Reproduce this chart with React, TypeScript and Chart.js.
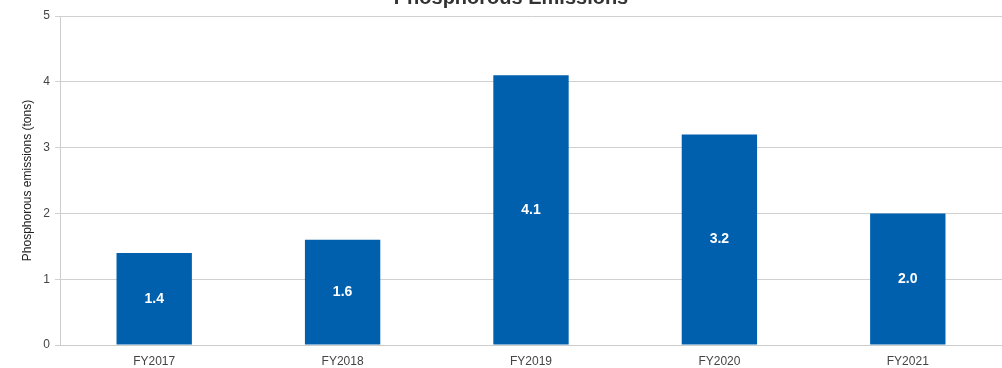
import React, { useEffect, useRef } from "react";
import { Chart, registerables } from "chart.js";

Chart.register(...registerables);

const categories = ["FY2017", "FY2018", "FY2019", "FY2020", "FY2021"];
const emissions = [1.4, 1.6, 4.1, 3.2, 2.0];
const yTicks = [0, 1, 2, 3, 4, 5];
const chartTitle = "Phosphorous Emissions";
const yTitle = "Phosphorous emissions (tons)";

const FONT = "'Liberation Sans', Arial, sans-serif";

const valueLabels = {
  id: "valueLabels",
  afterDatasetsDraw(chart: any) {
    const ctx = chart.ctx;
    const meta = chart.getDatasetMeta(0);
    ctx.save();
    ctx.fillStyle = "#ffffff";
    ctx.font = `bold 14px ${FONT}`;
    ctx.textAlign = "center";
    ctx.textBaseline = "middle";
    meta.data.forEach((bar: any, i: number) => {
      const y = (bar.y + bar.base) / 2;
      ctx.fillText(emissions[i].toFixed(1), bar.x, y);
    });
    ctx.restore();
  },
};

const topTitle = {
  id: "topTitle",
  afterDraw(chart: any) {
    const ctx = chart.ctx;
    ctx.save();
    ctx.fillStyle = "#333333";
    ctx.font = `bold 20px ${FONT}`;
    ctx.textAlign = "center";
    ctx.textBaseline = "alphabetic";
    ctx.fillText(chartTitle, 511, 4);
    ctx.restore();
  },
};

export default function App() {
  const ref = useRef<HTMLCanvasElement | null>(null);
  useEffect(() => {
    document.body.style.margin = "0";
    if (!ref.current) return;
    const chart = new Chart(ref.current, {
      type: "bar",
      data: {
        labels: categories,
        datasets: [
          {
            data: emissions,
            backgroundColor: "#0060ae",
            barPercentage: 0.4,
            categoryPercentage: 1,
          },
        ],
      },
      options: {
        animation: false,
        responsive: false,
        layout: { padding: { left: 0, right: 0, top: 16, bottom: 0 } },
        plugins: {
          legend: { display: false },
          tooltip: { enabled: false },
          title: { display: false },
        },
        scales: {
          x: {
            grid: { display: false },
            border: { display: true, color: "#cccccc" },
            ticks: {
              color: "#444444",
              font: { family: FONT, size: 12 },
              padding: 1,
            },
            afterFit: (s: any) => {
              s.height = 23;
            },
          },
          y: {
            min: 0,
            max: 5,
            afterBuildTicks: (s: any) => {
              s.ticks = yTicks.map((v) => ({ value: v }));
            },
            grid: { color: "#d0d0d0", tickLength: 5 },
            border: { display: true, color: "#cccccc" },
            ticks: {
              color: "#444444",
              font: { family: FONT, size: 12 },
              padding: 5,
            },
            title: {
              display: true,
              text: yTitle,
              color: "#222222",
              font: { family: FONT, size: 12 },
              padding: { top: 20, bottom: 0 },
            },
            afterFit: (s: any) => {
              s.width = 60;
            },
          },
        },
      },
      plugins: [valueLabels, topTitle],
    });
    return () => chart.destroy();
  }, []);
  return (
    <div style={{ position: "absolute", left: 0, top: 0, width: 1002, height: 368 }}>
      <canvas ref={ref} width={1002} height={368} style={{ display: "block" }} />
    </div>
  );
}
